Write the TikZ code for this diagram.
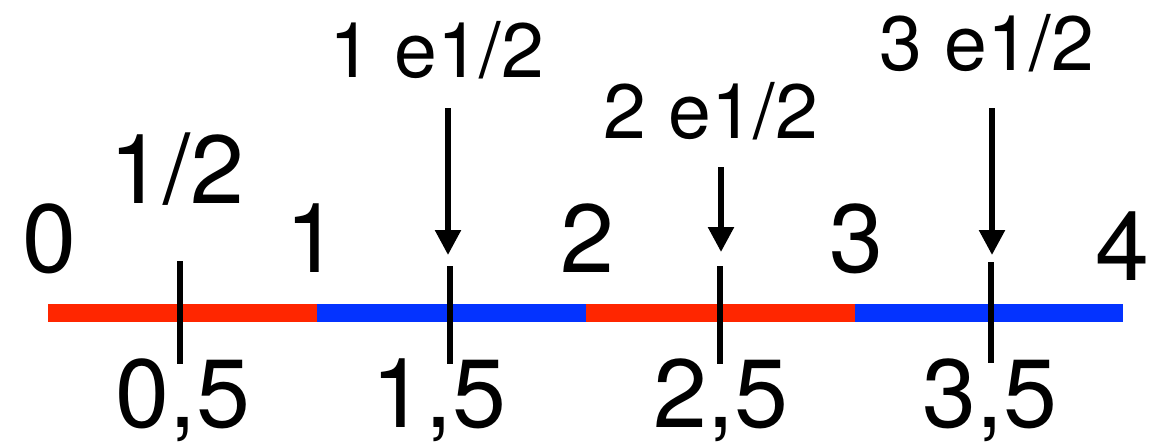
\documentclass[tikz,border=0pt]{standalone}
\usepackage{fontspec}
\setmainfont{TeX Gyre Heros}
\usetikzlibrary{arrows.meta}
\definecolor{segred}{RGB}{255,38,0}
\definecolor{segblue}{RGB}{4,51,255}
\begin{document}
\begin{tikzpicture}[x=1pt,y=-1pt,
  big/.style={font=\fontsize{97}{97}\selectfont, inner sep=0pt, anchor=base},
  mid/.style={font=\fontsize{77}{77}\selectfont, inner sep=0pt, anchor=base},
  seg/.style={line width=18pt, line cap=butt},
  tickmark/.style={line width=5.5pt, black},
  pointer/.style={line width=5.5pt, black, -{Triangle[width=25pt,length=25pt]}}]
\useasboundingbox (0,0) rectangle (1157,442);
% axis points
\coordinate (p0) at (48,312.5);
\coordinate (p1) at (317,312.5);
\coordinate (p2) at (586,312.5);
\coordinate (p3) at (855,312.5);
\coordinate (p4) at (1123,312.5);
\draw[seg, segred] (p0) -- (p1);
\draw[seg, segblue] (p1) -- (p2);
\draw[seg, segred] (p2) -- (p3);
\draw[seg, segblue] (p3) -- (p4);
% ticks
\coordinate (t1a) at (180,261); \coordinate (t1b) at (180,364);
\coordinate (t2a) at (450,266); \coordinate (t2b) at (450,364);
\coordinate (t3a) at (720,266); \coordinate (t3b) at (720,364);
\coordinate (t4a) at (991,262); \coordinate (t4b) at (991,363);
\draw[tickmark] (t1a) -- (t1b);
\draw[tickmark] (t2a) -- (t2b);
\draw[tickmark] (t3a) -- (t3b);
\draw[tickmark] (t4a) -- (t4b);
% integer labels
\node[big] (n0) at (49,272) {0};
\node[big] (n1) at (312,272) {1};
\node[big] (n2) at (587,272) {2};
\node[big] (n3) at (856,272) {3};
\node[big] (n4) at (1122,280) {4};
\node[big] (nh) at (177,203) {1/2};
% decimal labels
\node[big] (d1) at (183,427) {0,5};
\node[big] (d2) at (439,427) {1,5};
\node[big] (d3) at (721,427) {2,5};
\node[big] (d4) at (990,427) {3,5};
% top labels and arrows
\node[mid] (e1) at (437,77) {1 e1/2};
\node[mid] (e2) at (711,138) {2 e1/2};
\node[mid] (e3) at (987,70) {3 e1/2};
\coordinate (a1s) at (448,108); \coordinate (a1e) at (448,255);
\coordinate (a2s) at (721,167); \coordinate (a2e) at (721,252);
\coordinate (a3s) at (992,108); \coordinate (a3e) at (992,255);
\draw[pointer] (a1s) -- (a1e);
\draw[pointer] (a2s) -- (a2e);
\draw[pointer] (a3s) -- (a3e);
\end{tikzpicture}
\end{document}
